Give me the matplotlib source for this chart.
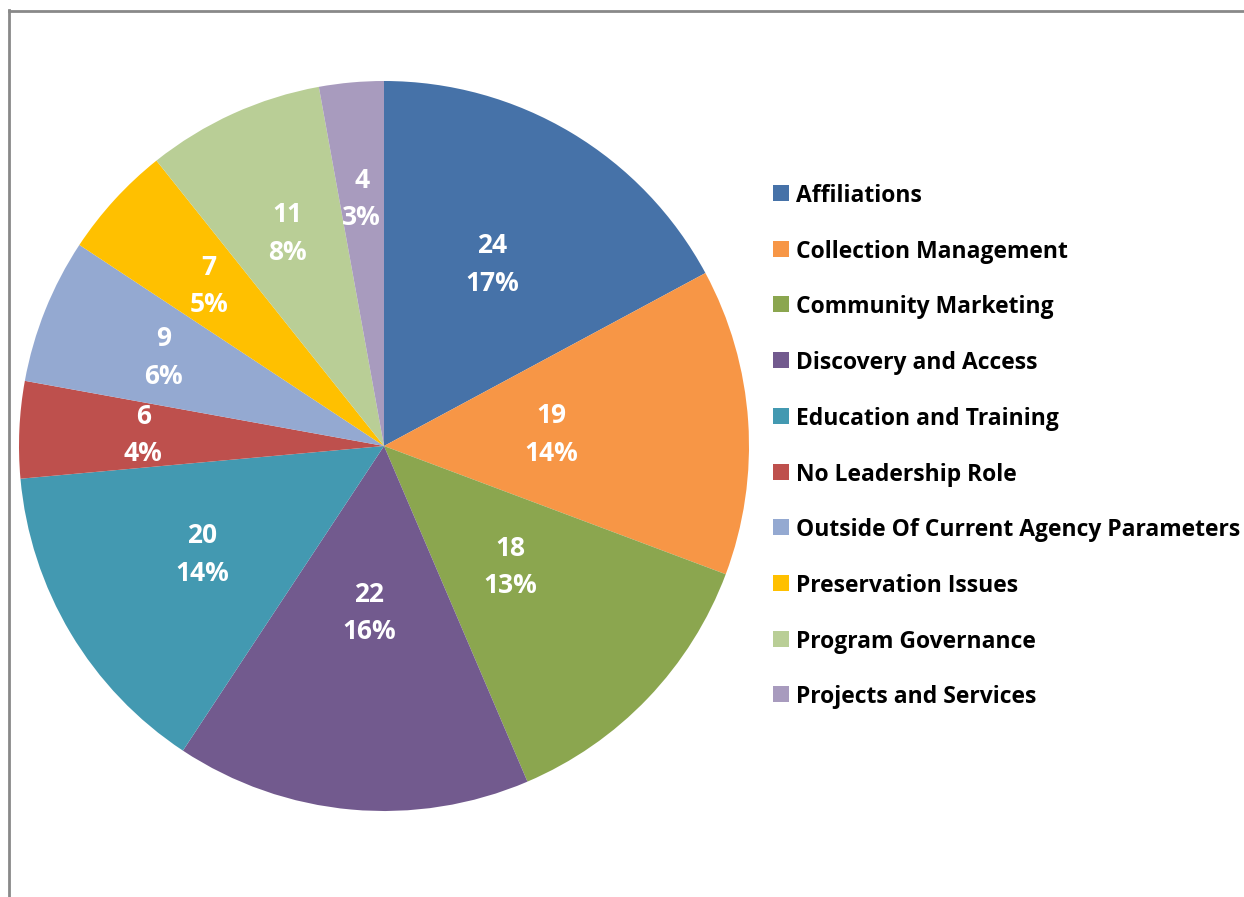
import numpy as np
import matplotlib.pyplot as plt
from matplotlib.patches import Rectangle

plt.rcParams['font.family'] = ['Open Sans', 'DejaVu Sans']

categories = ['Affiliations', 'Collection Management', 'Community Marketing',
              'Discovery and Access', 'Education and Training', 'No Leadership Role',
              'Outside Of Current Agency Parameters', 'Preservation Issues',
              'Program Governance', 'Projects and Services']
counts = [24, 19, 18, 22, 20, 6, 9, 7, 11, 4]

colors = ['#4672A8', '#F79646', '#8BA64F', '#725A8E', '#4399B1',
          '#BE504D', '#94A9D1', '#FFC000', '#B9CE96', '#A89BBE']
# where Excel put each label, as fraction of radius
label_r = [0.58, 0.46, 0.48, 0.46, 0.58, 0.66, 0.65, 0.65, 0.64, 0.68]

W, H = 1244, 897
fig = plt.figure(figsize=(W / 100, H / 100), dpi=100)

# grey frame, only top and left edges fall inside the crop
fig.add_artist(plt.Line2D([9 / W, 9 / W], [0, 1 - 10 / H], color='#898989', lw=2))
fig.add_artist(plt.Line2D([9 / W, 1], [1 - 11 / H, 1 - 11 / H], color='#898989', lw=2))

cx, cy, rad = 384, 446, 365
ax = fig.add_axes([(cx - rad) / W, (H - cy - rad) / H, 2 * rad / W, 2 * rad / H])
wedges, _ = ax.pie(counts, colors=colors, startangle=90, counterclock=False,
                   wedgeprops=dict(linewidth=0))
ax.set_xlim(-1, 1)
ax.set_ylim(-1, 1)
ax.set_aspect('equal')
ax.axis('off')

total = sum(counts)
for w, n, r in zip(wedges, counts, label_r):
    ang = np.deg2rad((w.theta1 + w.theta2) / 2)
    x, y = r * np.cos(ang), r * np.sin(ang)
    ax.text(x, y, f'{n}\n{round(100 * n / total)}%', ha='center', va='center',
            color='white', fontsize=19, fontweight='bold', linespacing=1.5)

# legend
y0, step = 193, 55.7
for i, (lab, c) in enumerate(zip(categories, colors)):
    y = y0 + i * step
    fig.add_artist(Rectangle((773 / W, 1 - (y + 8) / H), 16 / W, 16 / H,
                             facecolor=c, edgecolor='none', transform=fig.transFigure))
    fig.text(796 / W, 1 - y / H, lab, ha='left', va='center_baseline',
             fontsize=16.5, fontweight='bold', color='black')

plt.savefig('out.png', dpi=100)
